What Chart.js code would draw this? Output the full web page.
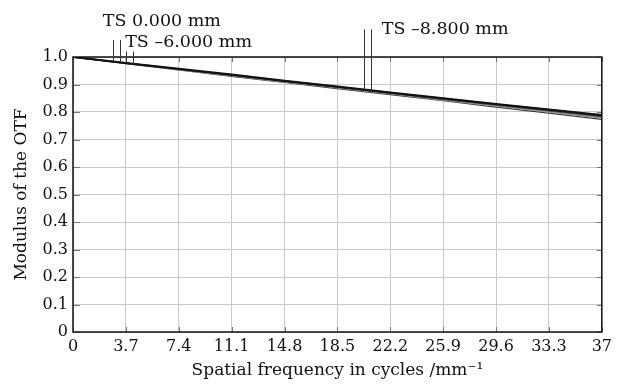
<!DOCTYPE html>
<html>
<head>
<meta charset="utf-8">
<script src="https://cdn.jsdelivr.net/npm/chart.js@4/dist/chart.umd.min.js"></script>
<style>
html,body{margin:0;padding:0;background:#fff;}
canvas{display:block;}
</style>
</head>
<body>
<canvas id="c" width="617" height="384"></canvas>
<script>
// ---- data ----
const freq = [0, 3.7, 7.4, 11.1, 14.8, 18.5, 22.2, 25.9, 29.6, 33.3, 37];
const xTickLabels = ['0','3.7','7.4','11.1','14.8','18.5','22.2','25.9','29.6','33.3','37'];
const yTickValues = [0,0.1,0.2,0.3,0.4,0.5,0.6,0.7,0.8,0.9,1.0];
const ts0T  = [1.000, 0.978, 0.957, 0.936, 0.914, 0.893, 0.871, 0.850, 0.829, 0.809, 0.789];
const ts0S  = [1.000, 0.978, 0.956, 0.935, 0.913, 0.892, 0.870, 0.849, 0.828, 0.808, 0.787];
const ts6T  = [1.000, 0.977, 0.955, 0.934, 0.912, 0.890, 0.869, 0.847, 0.826, 0.805, 0.784];
const ts6S  = [1.000, 0.977, 0.955, 0.933, 0.911, 0.889, 0.868, 0.846, 0.825, 0.804, 0.782];
const ts88T = [1.000, 0.977, 0.954, 0.932, 0.910, 0.888, 0.866, 0.844, 0.822, 0.800, 0.778];
const ts88S = [1.000, 0.976, 0.953, 0.930, 0.908, 0.885, 0.863, 0.841, 0.818, 0.796, 0.773];

// label annotations (data units)
const labelTexts   = ['TS 0.000 mm', 'TS \u20136.000 mm', 'TS \u20138.800 mm'];
const labelX       = [2.09, 3.65, 21.6];
const labelY       = [1.113, 1.036, 1.082];
const leaderX      = [[2.78, 3.27], [3.69, 4.17], [20.38, 20.84]];
const leaderTop    = [1.062, 1.02, 1.10];
const leaderSeries = [[ts0T, ts0S], [ts6T, ts6S], [ts88T, ts88S]];

function pts(arr){ return freq.map((f,i)=>({x:f, y:arr[i]})); }
function interp(arr, x){
  for(let i=0;i<freq.length-1;i++){
    if(x>=freq[i] && x<=freq[i+1]){
      const t=(x-freq[i])/(freq[i+1]-freq[i]);
      return arr[i]+t*(arr[i+1]-arr[i]);
    }
  }
  return arr[arr.length-1];
}

const SERIF = '"DejaVu Serif", serif';

const decor = {
  id:'decor',
  beforeDatasetsDraw(chart){
    const {ctx, chartArea:a, scales:{x,y}} = chart;
    ctx.save();
    ctx.strokeStyle='#777'; ctx.lineWidth=1;
    const L=5;
    freq.forEach(v=>{
      const px=Math.round(x.getPixelForValue(v))+0.5;
      ctx.beginPath(); ctx.moveTo(px,a.bottom); ctx.lineTo(px,a.bottom-L); ctx.stroke();
      ctx.beginPath(); ctx.moveTo(px,a.top); ctx.lineTo(px,a.top+L); ctx.stroke();
    });
    yTickValues.forEach(v=>{
      const py=Math.round(y.getPixelForValue(v))+0.5;
      ctx.beginPath(); ctx.moveTo(a.left,py); ctx.lineTo(a.left+L+2,py); ctx.stroke();
      ctx.beginPath(); ctx.moveTo(a.right,py); ctx.lineTo(a.right-L,py); ctx.stroke();
    });
    ctx.restore();
  },
  afterDatasetsDraw(chart){
    const {ctx, chartArea:a, scales:{x,y}} = chart;
    ctx.save();
    // frame
    ctx.strokeStyle='#111'; ctx.lineWidth=1.5;
    ctx.strokeRect(a.left, a.top, a.right-a.left, a.bottom-a.top);
    // leaders
    ctx.strokeStyle='#333'; ctx.lineWidth=1;
    leaderX.forEach((xs,k)=>{
      xs.forEach((lx,j)=>{
        const px = Math.round(x.getPixelForValue(lx))+0.5;
        ctx.beginPath();
        ctx.moveTo(px, y.getPixelForValue(leaderTop[k]));
        ctx.lineTo(px, y.getPixelForValue(interp(leaderSeries[k][j], lx)));
        ctx.stroke();
      });
    });
    // texts
    ctx.fillStyle='#111';
    ctx.font='17.5px '+SERIF;
    ctx.textBaseline='alphabetic';
    ctx.textAlign='left';
    labelTexts.forEach((t,k)=>{
      ctx.fillText(t, x.getPixelForValue(labelX[k]), y.getPixelForValue(labelY[k]));
    });
    ctx.restore();
  }
};

new Chart(document.getElementById('c'), {
  type:'line',
  data:{
    datasets:[
      {data:pts(ts0T), borderColor:'#111', borderWidth:2},
      {data:pts(ts0S), borderColor:'#222', borderWidth:1.5},
      {data:pts(ts6T), borderColor:'#444', borderWidth:1.2},
      {data:pts(ts6S), borderColor:'#555', borderWidth:1.2},
      {data:pts(ts88T), borderColor:'#999', borderWidth:1.5},
      {data:pts(ts88S), borderColor:'#333', borderWidth:1.3}
    ].map(d=>Object.assign(d,{pointRadius:0, tension:0, fill:false}))
  },
  options:{
    responsive:false,
    animation:false,
    events:[],
    layout:{padding:{top:57, right:10, left:0, bottom:0}},
    plugins:{legend:{display:false}, tooltip:{enabled:false}},
    scales:{
      x:{
        type:'linear', min:0, max:37,
        afterBuildTicks(s){ s.ticks = freq.map(v=>({value:v})); },
        afterFit(s){ s.height = 52; },
        ticks:{
          callback:(v,i)=>xTickLabels[i],
          color:'#111', font:{family:SERIF, size:16}, padding:5, maxRotation:0, autoSkip:false
        },
        grid:{color:'#c8c8c8', lineWidth:1, drawTicks:false},
        border:{display:false},
        title:{display:true, text:'Spatial frequency in cycles /mm\u207B\u00B9', color:'#111',
          font:{family:SERIF, size:17}, padding:{top:0,bottom:3}}
      },
      y:{
        type:'linear', min:0, max:1,
        afterBuildTicks(s){ s.ticks = yTickValues.map(v=>({value:v})); },
        afterFit(s){ s.width = 73; },
        ticks:{
          callback:(v)=> v===0 ? '0' : v.toFixed(1),
          color:'#111', font:{family:SERIF, size:16}, padding:5
        },
        grid:{color:'#c8c8c8', lineWidth:1, drawTicks:false},
        border:{display:false},
        title:{display:true, text:'Modulus of the OTF', color:'#111',
          font:{family:SERIF, size:17}, padding:{top:11,bottom:0}}
      }
    }
  },
  plugins:[decor]
});
</script>
</body>
</html>
